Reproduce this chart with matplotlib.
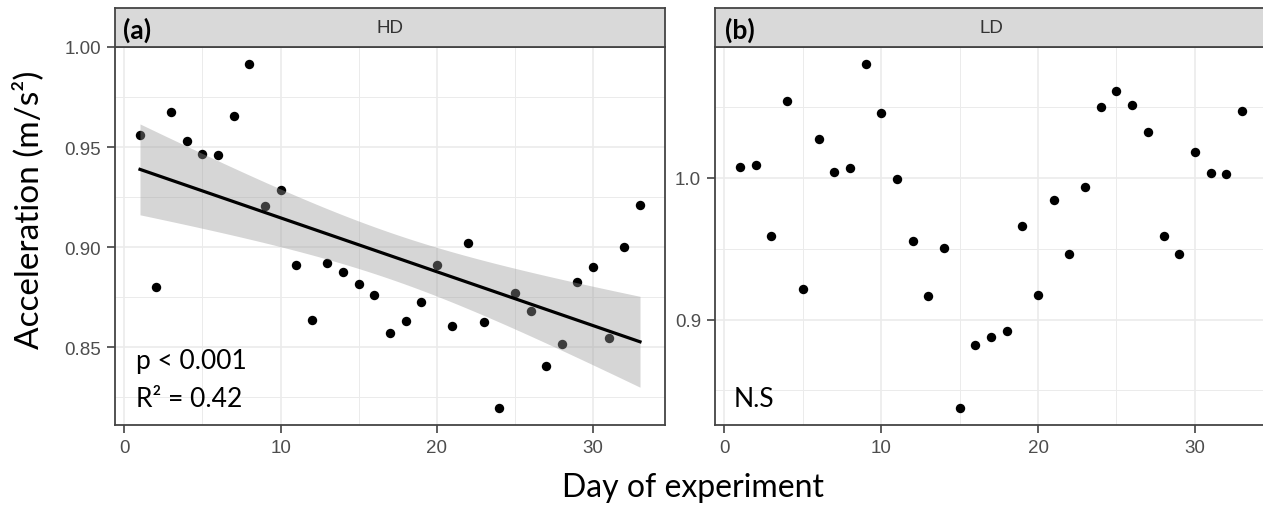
import numpy as np
import matplotlib
matplotlib.use("Agg")
import matplotlib.pyplot as plt

# daily mean acceleration (m/s^2) for the two groups
days = np.arange(1, 34)
hd_acc = [0.9562, 0.8798, 0.9675, 0.9531, 0.9463, 0.9460, 0.9653, 0.9913, 0.9207, 0.9285,
          0.8911, 0.8633, 0.8918, 0.8875, 0.8813, 0.8762, 0.8568, 0.8628, 0.8725, 0.8911,
          0.8603, 0.9022, 0.8627, 0.8196, 0.8768, 0.8682, 0.8403, 0.8517, 0.8823, 0.8898,
          0.8546, 0.9000, 0.9212]
ld_acc = [1.0073, 1.0089, 0.9588, 1.0543, 0.9212, 1.0273, 1.0040, 1.0066, 1.0802, 1.0454,
          0.9995, 0.9555, 0.9165, 0.9503, 0.8377, 0.8819, 0.8878, 0.8920, 0.9658, 0.9172,
          0.9842, 0.9459, 0.9934, 1.0501, 1.0614, 1.0512, 1.0325, 0.9588, 0.9459, 1.0179,
          1.0033, 1.0028, 1.0475]

panel_titles = ["HD", "LD"]
panel_tags = ["(a)", "(b)"]
x_ticks = [0, 10, 20, 30]
hd_yticks = [0.85, 0.90, 0.95, 1.00]
ld_yticks = [0.9, 1.0]

W, H = 1263, 506
fig = plt.figure(figsize=(W / 100, H / 100), dpi=100)

tick_font = "Liberation Sans"
note_font = "Lato"


def px_box(left, top, right, bottom):
    return [left / W, 1 - bottom / H, (right - left) / W, (bottom - top) / H]


def style_panel(ax, yticks, ylabels, yminor, title):
    ax.set_xticks(x_ticks)
    ax.set_xticks([5, 15, 25], minor=True)
    ax.set_yticks(yticks)
    ax.set_yticklabels(ylabels)
    ax.set_yticks(yminor, minor=True)
    ax.grid(which="major", color="#ebebeb", lw=1.2, zorder=0)
    ax.grid(which="minor", color="#ebebeb", lw=0.7, zorder=0)
    ax.set_axisbelow(True)
    ax.tick_params(which="major", length=6, width=1.1, color="#333333",
                   labelcolor="#4d4d4d", labelsize=13.5, pad=4)
    ax.tick_params(which="minor", length=0)
    for lab in ax.get_xticklabels() + ax.get_yticklabels():
        lab.set_fontfamily(tick_font)
    for sp in ax.spines.values():
        sp.set_color("#444444")
        sp.set_linewidth(1.3)

    # facet strip above the panel
    pos = ax.get_position()
    strip = fig.add_axes([pos.x0, pos.y1, pos.width, 39 / H])
    strip.set_facecolor("#d9d9d9")
    strip.set_xticks([])
    strip.set_yticks([])
    for sp in strip.spines.values():
        sp.set_color("#444444")
        sp.set_linewidth(1.3)
    strip.text(0.5, 0.5, title, transform=strip.transAxes, ha="center", va="center",
               fontsize=13.5, color="#333333", family=tick_font)
    return strip


# panel (a): HD with linear fit and 95% band
ax1 = fig.add_axes(px_box(115, 48, 665, 426))
ax1.scatter(days, hd_acc, s=46, color="black", lw=0, zorder=2)

x = days.astype(float)
y = np.array(hd_acc)
slope, icpt = np.polyfit(x, y, 1)
resid = y - (slope * x + icpt)
n = len(x)
s_err = np.sqrt(np.sum(resid ** 2) / (n - 2))
sxx = np.sum((x - x.mean()) ** 2)
xs = np.linspace(x.min(), x.max(), 80)
fit = slope * xs + icpt
half = 2.0395 * s_err * np.sqrt(1 / n + (xs - x.mean()) ** 2 / sxx)
ax1.fill_between(xs, fit - half, fit + half, color="#999999", alpha=0.4, lw=0, zorder=3)
ax1.plot(xs, fit, color="black", lw=2.3, zorder=4)

ax1.set_xlim(-0.6, 34.6)
lo, hi = min(hd_acc), max(hd_acc)
pad = (hi - lo) * 0.05
ax1.set_ylim(lo - pad, hi + pad)
style_panel(ax1, hd_yticks, ["0.85", "0.90", "0.95", "1.00"],
            [0.825, 0.875, 0.925, 0.975], panel_titles[0])

# panel (b): LD, no trend
ax2 = fig.add_axes(px_box(715, 48, 1267, 426))
ax2.scatter(days, ld_acc, s=46, color="black", lw=0, zorder=2)
ax2.set_xlim(-0.6, 34.6)
lo, hi = min(ld_acc), max(ld_acc)
pad = (hi - lo) * 0.05
ax2.set_ylim(lo - pad, hi + pad)
style_panel(ax2, ld_yticks, ["0.9", "1.0"], [0.85, 0.95, 1.05], panel_titles[1])

# panel tags and statistics
fig.text(123 / W, 1 - 30 / H, panel_tags[0], fontsize=19, weight="bold",
         family=note_font, va="center", ha="left")
fig.text(725 / W, 1 - 30 / H, panel_tags[1], fontsize=19, weight="bold",
         family=note_font, va="center", ha="left")
fig.text(136 / W, 1 - 369 / H, "p < 0.001", fontsize=19, family=note_font, va="baseline")
fig.text(136 / W, 1 - 407 / H, "R\u00b2 = 0.42", fontsize=19, family=note_font, va="baseline")
fig.text(734 / W, 1 - 407 / H, "N.S", fontsize=19, family=note_font, va="baseline")

# shared axis titles
fig.text(693 / W, 1 - 497 / H, "Day of experiment", fontsize=23, family=note_font,
         ha="center", va="baseline")
fig.text(28 / W, 1 - 210 / H, "Acceleration (m/s\u00b2)", fontsize=24, family=note_font,
         ha="center", va="center", rotation=90)

fig.savefig("out.png", dpi=100)
